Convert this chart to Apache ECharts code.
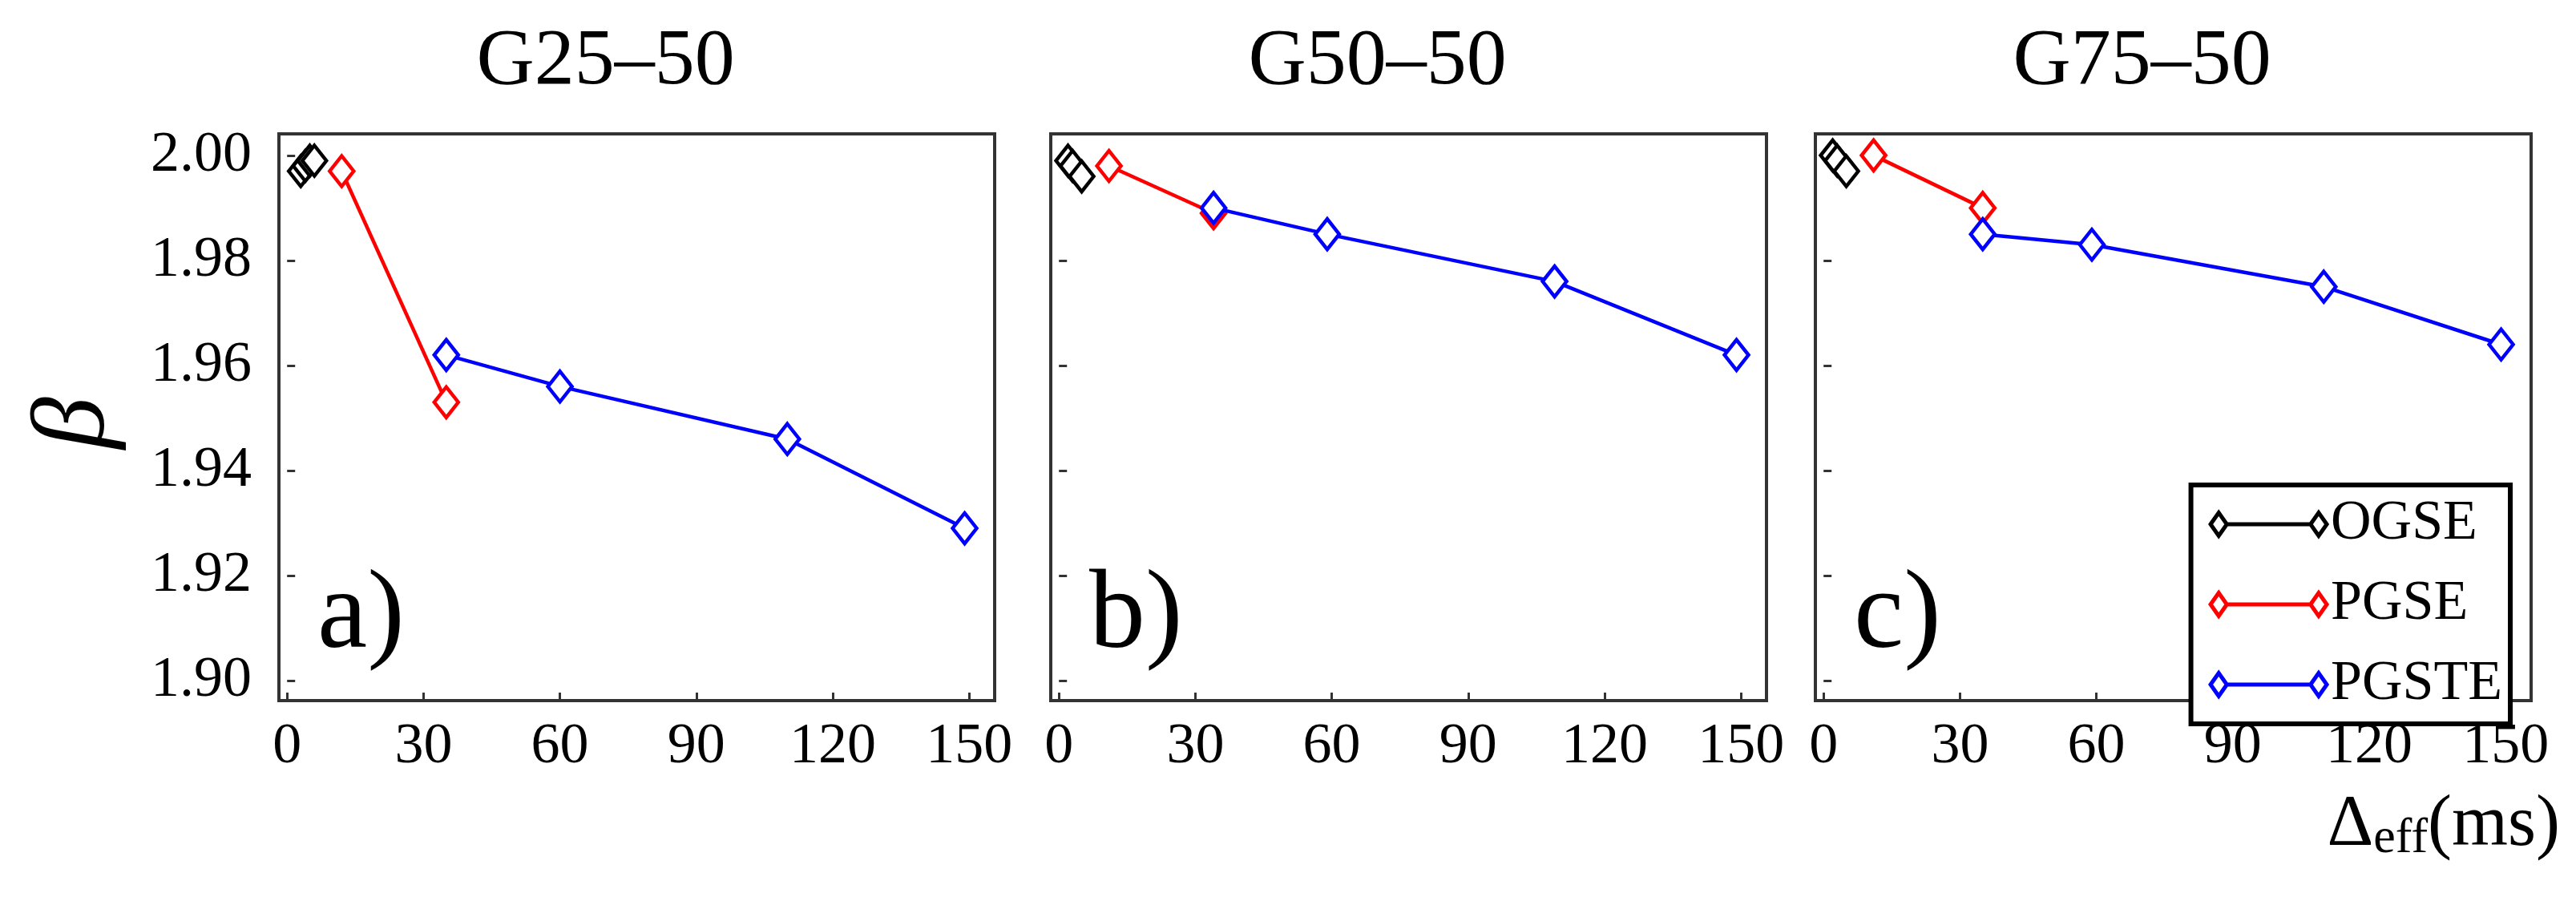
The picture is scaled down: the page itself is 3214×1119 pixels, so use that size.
<!DOCTYPE html>
<html>
<head>
<meta charset="utf-8">
<script src="https://cdn.jsdelivr.net/npm/echarts@6/dist/echarts.min.js"></script>
<style>html,body{margin:0;padding:0;background:#fff}#main{width:3214px;height:1119px}</style>
</head>
<body>
<div id="main"></div>
<script>
// panel titles and labels
const titles = ['G25\u201350', 'G50\u201350', 'G75\u201350']
const panelTags = ['a)', 'b)', 'c)']
const seriesNames = ['OGSE', 'PGSE', 'PGSTE']
const colors = ['#000000', '#ff0000', '#0000ff']
const xTicks = [0, 30, 60, 90, 120, 150]
const yTicks = [1.90, 1.92, 1.94, 1.96, 1.98, 2.00]

// data [Δeff, β] for each panel
const ogse = [
  [[3, 1.997], [4, 1.998], [5, 1.999], [6, 1.999]],
  [[2, 1.999], [3, 1.998], [5, 1.996]],
  [[2, 2.000], [3, 1.999], [5, 1.997]]
]
const pgse = [
  [[12, 1.997], [35, 1.953]],
  [[11, 1.998], [34, 1.989]],
  [[11, 2.000], [35, 1.990]]
]
const pgste = [
  [[35, 1.962], [60, 1.956], [110, 1.946], [149, 1.929]],
  [[34, 1.990], [59, 1.985], [109, 1.976], [149, 1.962]],
  [[35, 1.985], [59, 1.983], [110, 1.975], [149, 1.964]]
]

const gridLeft = [348, 1311, 2265]
const gridWidth = 893
const font = '"Liberation Serif", "Times New Roman", "DejaVu Serif", serif'

const myChart = echarts.init(document.getElementById('main'))
const grids = [], xAxes = [], yAxes = [], series = [], graphics = []
const allData = [ogse, pgse, pgste]

for (let i = 0; i < 3; i++) {
  grids.push({left: gridLeft[i], width: gridWidth, top: 167, height: 707,
    show: true, borderColor: '#333', borderWidth: 4, backgroundColor: '#fff'})
  xAxes.push({type: 'value', gridIndex: i, min: -1.8, max: 155.6,
    splitLine: {show: false}, axisLine: {show: false},
    axisTick: {show: true, inside: true, length: 10, customValues: xTicks, lineStyle: {color: '#333', width: 3}},
    axisLabel: {customValues: xTicks, fontFamily: font, fontSize: 72, color: '#000', margin: 22}})
  yAxes.push({type: 'value', gridIndex: i, min: 1.8962, max: 2.0041,
    splitLine: {show: false}, axisLine: {show: false},
    axisTick: {show: true, inside: true, length: 10, customValues: yTicks, lineStyle: {color: '#333', width: 3}},
    axisLabel: {show: i === 0, customValues: yTicks, formatter: v => v.toFixed(2),
      fontFamily: font, fontSize: 72, color: '#000', margin: 34}})
  for (let s = 0; s < 3; s++) {
    series.push({name: seriesNames[s], type: 'line', xAxisIndex: i, yAxisIndex: i,
      data: allData[s][i], symbol: 'diamond', symbolSize: [30, 38],
      lineStyle: {color: colors[s], width: 4.5},
      itemStyle: {color: '#fff', borderColor: colors[s], borderWidth: 4.5}, z: 3 + s})
  }
  graphics.push({type: 'text', left: gridLeft[i] + gridWidth / 2 - 200, top: 28,
    style: {text: titles[i], font: '100px ' + font, fill: '#000', width: 400, align: 'center'}})
  graphics.push({type: 'text', left: gridLeft[i] + 48, top: 700,
    style: {text: panelTags[i], font: '140px ' + font, fill: '#000'}})
}

graphics.push({type: 'text', x: 30, y: 560, rotation: Math.PI / 2,
  style: {text: '\u03b2', font: 'italic 130px ' + font, fill: '#000'}})
graphics.push({type: 'text', right: 20, top: 985,
  style: {text: '{a|\u0394}{b|eff}{a|(ms)}', fill: '#000',
    rich: {a: {fontFamily: font, fontSize: 90}, b: {fontFamily: font, fontSize: 62, padding: [34, 0, 0, 0]}}}})

const legendIcon = 'path://M0,10 L7,0 L14,10 L7,20 Z M14,10 L86,10 M86,10 L93,0 L100,10 L93,20 Z'

const option = {
  animation: false,
  grid: grids,
  xAxis: xAxes,
  yAxis: yAxes,
  series: series,
  legend: {
    data: seriesNames.map((n, k) => ({name: n, icon: legendIcon,
      itemStyle: {color: '#fff', borderColor: colors[k], borderWidth: 5}})),
    orient: 'vertical', right: 82, top: 605,
    itemWidth: 145, itemHeight: 36, itemGap: 30,
    textStyle: {fontFamily: font, fontSize: 70, color: '#000'},
    backgroundColor: '#fff', borderColor: '#000', borderWidth: 6,
    padding: [14, 10, 14, 22]
  },
  graphic: graphics
}
myChart.setOption(option)
</script>
</body>
</html>
